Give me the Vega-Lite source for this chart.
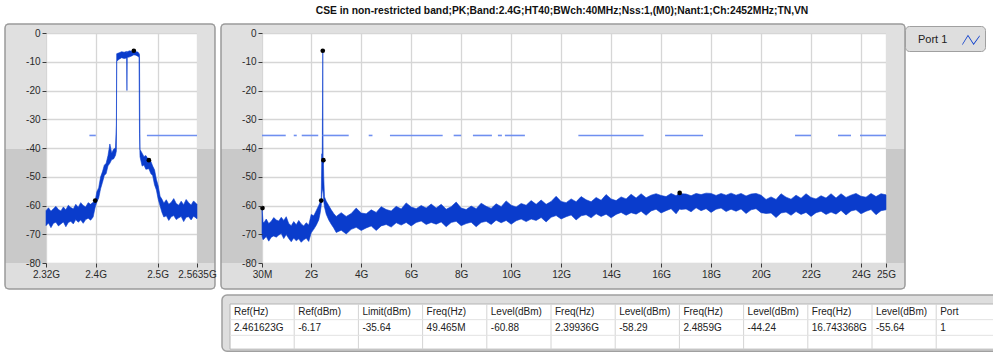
{
  "$schema": "https://vega.github.io/schema/vega-lite/v6.json",
  "background": "white",
  "padding": {"left": 3, "top": 5, "right": 0, "bottom": 0},
  "config": {
    "font": "Liberation Sans",
    "view": {"stroke": "#8e8e8e", "fill": "white"},
    "axis": {"grid": false, "gridColor": "#d6d6d6", "gridWidth": 1.3, "domain": false, "tickColor": "#3a3a3a", "tickSize": 4, "labelColor": "#2a2a2a", "labelFont": "Liberation Sans", "labelFontSize": 10, "labelPadding": 2, "labelFlush": false, "labelOverlap": false},
    "axisY": {"tickCount": 9}
  },
  "datasets": {
    "spectrumLeft": [
      {"f": 2.320, "lo": -67.0, "hi": -61.8}, {"f": 2.324, "lo": -66.1, "hi": -60.8}, {"f": 2.328, "lo": -67.7, "hi": -62.0},
      {"f": 2.332, "lo": -66.2, "hi": -61.1}, {"f": 2.336, "lo": -65.8, "hi": -60.3}, {"f": 2.340, "lo": -67.1, "hi": -61.4},
      {"f": 2.344, "lo": -66.4, "hi": -61.9}, {"f": 2.348, "lo": -65.7, "hi": -60.5}, {"f": 2.352, "lo": -67.4, "hi": -61.5},
      {"f": 2.356, "lo": -65.9, "hi": -59.9}, {"f": 2.360, "lo": -65.5, "hi": -60.7}, {"f": 2.364, "lo": -66.4, "hi": -61.2},
      {"f": 2.368, "lo": -64.9, "hi": -59.6}, {"f": 2.372, "lo": -65.8, "hi": -60.6}, {"f": 2.376, "lo": -65.0, "hi": -59.0},
      {"f": 2.380, "lo": -66.2, "hi": -60.0}, {"f": 2.384, "lo": -64.9, "hi": -60.5}, {"f": 2.388, "lo": -64.4, "hi": -59.0},
      {"f": 2.392, "lo": -65.1, "hi": -59.6}, {"f": 2.396, "lo": -64.0, "hi": -58.9}, {"f": 2.3994, "lo": -60.5, "hi": -58.29},
      {"f": 2.402, "lo": -58.8, "hi": -55.2}, {"f": 2.405, "lo": -57.4, "hi": -53.8}, {"f": 2.408, "lo": -54.2, "hi": -50.1},
      {"f": 2.411, "lo": -52.0, "hi": -48.3}, {"f": 2.414, "lo": -49.6, "hi": -46.0}, {"f": 2.417, "lo": -48.9, "hi": -45.3},
      {"f": 2.420, "lo": -46.2, "hi": -42.6}, {"f": 2.423, "lo": -45.3, "hi": -38.6}, {"f": 2.426, "lo": -44.0, "hi": -41.8},
      {"f": 2.429, "lo": -43.8, "hi": -40.4}, {"f": 2.432, "lo": -42.6, "hi": -40.0}, {"f": 2.4335, "lo": -41.0, "hi": -32.0},
      {"f": 2.434, "lo": -9.8, "hi": -7.2}, {"f": 2.438, "lo": -9.1, "hi": -6.9}, {"f": 2.442, "lo": -8.6, "hi": -6.5},
      {"f": 2.446, "lo": -8.9, "hi": -6.7}, {"f": 2.450, "lo": -8.7, "hi": -6.4}, {"f": 2.4505, "lo": -20.0, "hi": -7.0},
      {"f": 2.451, "lo": -8.5, "hi": -6.5}, {"f": 2.455, "lo": -8.3, "hi": -6.2}, {"f": 2.459, "lo": -7.9, "hi": -6.4},
      {"f": 2.4616, "lo": -7.6, "hi": -6.17}, {"f": 2.465, "lo": -7.7, "hi": -6.5}, {"f": 2.468, "lo": -8.1, "hi": -6.6},
      {"f": 2.470, "lo": -8.4, "hi": -7.1}, {"f": 2.4708, "lo": -35.0, "hi": -7.5}, {"f": 2.4716, "lo": -43.0, "hi": -40.5},
      {"f": 2.475, "lo": -46.3, "hi": -41.8}, {"f": 2.478, "lo": -45.9, "hi": -43.0}, {"f": 2.481, "lo": -47.4, "hi": -42.6},
      {"f": 2.4859, "lo": -47.2, "hi": -44.24}, {"f": 2.489, "lo": -48.9, "hi": -44.6}, {"f": 2.492, "lo": -49.6, "hi": -46.3},
      {"f": 2.495, "lo": -52.8, "hi": -47.6}, {"f": 2.498, "lo": -54.6, "hi": -50.9}, {"f": 2.501, "lo": -57.9, "hi": -53.2},
      {"f": 2.504, "lo": -60.2, "hi": -56.8}, {"f": 2.507, "lo": -62.4, "hi": -57.8}, {"f": 2.510, "lo": -64.0, "hi": -59.2},
      {"f": 2.514, "lo": -63.6, "hi": -58.0}, {"f": 2.518, "lo": -65.2, "hi": -59.6}, {"f": 2.522, "lo": -63.9, "hi": -58.9},
      {"f": 2.526, "lo": -63.5, "hi": -57.6}, {"f": 2.530, "lo": -64.9, "hi": -59.3}, {"f": 2.534, "lo": -64.3, "hi": -59.9},
      {"f": 2.538, "lo": -63.8, "hi": -58.5}, {"f": 2.542, "lo": -65.6, "hi": -59.7}, {"f": 2.546, "lo": -64.1, "hi": -57.9},
      {"f": 2.550, "lo": -63.9, "hi": -59.0}, {"f": 2.554, "lo": -65.0, "hi": -59.8}, {"f": 2.558, "lo": -63.7, "hi": -58.4},
      {"f": 2.5635, "lo": -64.6, "hi": -59.6}
    ],
    "spectrumRight": [
      {"f": 0.03, "lo": -70.5, "hi": -60.88}, {"f": 0.07, "lo": -71.9, "hi": -65.6}, {"f": 0.10, "lo": -71.7, "hi": -66.1},
      {"f": 0.20, "lo": -70.8, "hi": -64.7}, {"f": 0.30, "lo": -72.4, "hi": -66.3}, {"f": 0.40, "lo": -71.0, "hi": -65.5},
      {"f": 0.50, "lo": -70.6, "hi": -64.2}, {"f": 0.60, "lo": -71.0, "hi": -65.0}, {"f": 0.70, "lo": -70.3, "hi": -65.4},
      {"f": 0.80, "lo": -69.7, "hi": -64.1}, {"f": 0.90, "lo": -71.5, "hi": -65.2}, {"f": 1.00, "lo": -70.1, "hi": -63.9},
      {"f": 1.10, "lo": -71.5, "hi": -66.3}, {"f": 1.20, "lo": -72.6, "hi": -67.0}, {"f": 1.30, "lo": -71.3, "hi": -65.6},
      {"f": 1.40, "lo": -72.3, "hi": -66.7}, {"f": 1.50, "lo": -71.6, "hi": -65.2}, {"f": 1.60, "lo": -72.8, "hi": -66.4},
      {"f": 1.70, "lo": -71.9, "hi": -67.1}, {"f": 1.80, "lo": -71.4, "hi": -66.0}, {"f": 1.90, "lo": -72.5, "hi": -66.8},
      {"f": 2.00, "lo": -69.5, "hi": -63.1}, {"f": 2.10, "lo": -68.3, "hi": -63.6}, {"f": 2.20, "lo": -66.9, "hi": -61.8},
      {"f": 2.30, "lo": -65.0, "hi": -60.0}, {"f": 2.36, "lo": -62.5, "hi": -58.8}, {"f": 2.3994, "lo": -60.0, "hi": -58.29},
      {"f": 2.415, "lo": -58.0, "hi": -48.0}, {"f": 2.425, "lo": -56.0, "hi": -42.0}, {"f": 2.44, "lo": -55.0, "hi": -45.0},
      {"f": 2.4616, "lo": -54.0, "hi": -6.17}, {"f": 2.475, "lo": -55.0, "hi": -45.5}, {"f": 2.4859, "lo": -56.0, "hi": -44.24},
      {"f": 2.50, "lo": -58.5, "hi": -50.0}, {"f": 2.53, "lo": -60.5, "hi": -57.0}, {"f": 2.60, "lo": -63.0, "hi": -58.5},
      {"f": 2.70, "lo": -65.0, "hi": -60.0}, {"f": 2.80, "lo": -66.5, "hi": -61.5}, {"f": 2.90, "lo": -67.8, "hi": -62.8},
      {"f": 3.0, "lo": -69.4, "hi": -63.8}, {"f": 3.2, "lo": -68.6, "hi": -62.5}, {"f": 3.4, "lo": -69.9, "hi": -63.8},
      {"f": 3.6, "lo": -68.3, "hi": -62.8}, {"f": 3.8, "lo": -67.6, "hi": -60.9}, {"f": 4.0, "lo": -68.7, "hi": -62.6},
      {"f": 4.2, "lo": -67.8, "hi": -62.9}, {"f": 4.4, "lo": -67.1, "hi": -61.5}, {"f": 4.6, "lo": -68.7, "hi": -62.4},
      {"f": 4.8, "lo": -67.1, "hi": -60.4}, {"f": 5.0, "lo": -66.6, "hi": -61.4}, {"f": 5.2, "lo": -67.5, "hi": -61.9},
      {"f": 5.4, "lo": -66.0, "hi": -60.3}, {"f": 5.6, "lo": -66.8, "hi": -61.2}, {"f": 5.8, "lo": -65.9, "hi": -59.1},
      {"f": 6.0, "lo": -67.1, "hi": -60.5}, {"f": 6.2, "lo": -65.9, "hi": -61.1}, {"f": 6.4, "lo": -65.4, "hi": -60.0},
      {"f": 6.6, "lo": -66.6, "hi": -60.9}, {"f": 6.8, "lo": -65.9, "hi": -59.5}, {"f": 7.0, "lo": -66.5, "hi": -60.9},
      {"f": 7.2, "lo": -65.7, "hi": -59.6}, {"f": 7.4, "lo": -67.4, "hi": -61.3}, {"f": 7.6, "lo": -65.9, "hi": -60.4},
      {"f": 7.8, "lo": -65.5, "hi": -58.8}, {"f": 8.0, "lo": -67.0, "hi": -60.9}, {"f": 8.2, "lo": -66.3, "hi": -61.4},
      {"f": 8.4, "lo": -65.8, "hi": -60.2}, {"f": 8.6, "lo": -67.4, "hi": -61.1}, {"f": 8.8, "lo": -65.9, "hi": -59.2},
      {"f": 9.0, "lo": -65.5, "hi": -60.3}, {"f": 9.2, "lo": -66.6, "hi": -61.0}, {"f": 9.4, "lo": -65.1, "hi": -59.4},
      {"f": 9.6, "lo": -66.0, "hi": -60.4}, {"f": 9.8, "lo": -65.2, "hi": -58.4}, {"f": 10.0, "lo": -66.5, "hi": -59.9},
      {"f": 10.2, "lo": -65.3, "hi": -60.5}, {"f": 10.4, "lo": -64.7, "hi": -59.3}, {"f": 10.6, "lo": -65.6, "hi": -59.9},
      {"f": 10.8, "lo": -64.7, "hi": -58.3}, {"f": 11.0, "lo": -65.2, "hi": -59.6}, {"f": 11.2, "lo": -64.2, "hi": -58.1},
      {"f": 11.4, "lo": -65.7, "hi": -59.6}, {"f": 11.6, "lo": -64.1, "hi": -58.6}, {"f": 11.8, "lo": -63.5, "hi": -56.8},
      {"f": 12.0, "lo": -64.7, "hi": -58.6}, {"f": 12.2, "lo": -63.9, "hi": -59.0}, {"f": 12.4, "lo": -63.3, "hi": -57.7},
      {"f": 12.6, "lo": -65.0, "hi": -58.7}, {"f": 12.8, "lo": -63.6, "hi": -56.9}, {"f": 13.0, "lo": -63.2, "hi": -58.0},
      {"f": 13.2, "lo": -64.3, "hi": -58.7}, {"f": 13.4, "lo": -62.9, "hi": -57.2}, {"f": 13.6, "lo": -63.8, "hi": -58.2},
      {"f": 13.8, "lo": -63.0, "hi": -56.2}, {"f": 14.0, "lo": -64.3, "hi": -57.7}, {"f": 14.2, "lo": -63.1, "hi": -58.3},
      {"f": 14.4, "lo": -62.4, "hi": -57.0}, {"f": 14.6, "lo": -63.4, "hi": -57.7}, {"f": 14.8, "lo": -62.5, "hi": -56.1},
      {"f": 15.0, "lo": -63.0, "hi": -57.4}, {"f": 15.2, "lo": -62.0, "hi": -55.9}, {"f": 15.4, "lo": -63.4, "hi": -57.3},
      {"f": 15.6, "lo": -61.9, "hi": -56.4}, {"f": 15.8, "lo": -61.3, "hi": -55.9}, {"f": 16.0, "lo": -62.6, "hi": -56.5},
      {"f": 16.2, "lo": -61.8, "hi": -56.9}, {"f": 16.4, "lo": -61.1, "hi": -55.8}, {"f": 16.6, "lo": -62.9, "hi": -56.6},
      {"f": 16.74, "lo": -61.2, "hi": -55.64}, {"f": 16.8, "lo": -61.4, "hi": -55.9}, {"f": 17.0, "lo": -61.2, "hi": -56.0},
      {"f": 17.2, "lo": -62.2, "hi": -56.6}, {"f": 17.4, "lo": -60.8, "hi": -55.8}, {"f": 17.6, "lo": -61.8, "hi": -56.2},
      {"f": 17.8, "lo": -61.1, "hi": -55.7}, {"f": 18.0, "lo": -62.4, "hi": -55.8}, {"f": 18.2, "lo": -61.3, "hi": -56.5},
      {"f": 18.4, "lo": -60.9, "hi": -55.8}, {"f": 18.6, "lo": -62.1, "hi": -56.4}, {"f": 18.8, "lo": -61.3, "hi": -55.7},
      {"f": 19.0, "lo": -62.0, "hi": -56.4}, {"f": 19.2, "lo": -61.2, "hi": -55.8}, {"f": 19.4, "lo": -62.8, "hi": -56.7},
      {"f": 19.6, "lo": -61.5, "hi": -56.0}, {"f": 19.8, "lo": -61.1, "hi": -55.8}, {"f": 20.0, "lo": -62.5, "hi": -56.4},
      {"f": 20.2, "lo": -62.8, "hi": -57.9}, {"f": 20.4, "lo": -62.6, "hi": -57.0}, {"f": 20.6, "lo": -64.2, "hi": -57.9},
      {"f": 20.8, "lo": -62.6, "hi": -55.9}, {"f": 21.0, "lo": -62.3, "hi": -57.1}, {"f": 21.2, "lo": -63.4, "hi": -57.8},
      {"f": 21.4, "lo": -62.1, "hi": -56.4}, {"f": 21.6, "lo": -63.1, "hi": -57.5}, {"f": 21.8, "lo": -62.4, "hi": -55.9},
      {"f": 22.0, "lo": -63.8, "hi": -57.2}, {"f": 22.2, "lo": -62.5, "hi": -57.7}, {"f": 22.4, "lo": -62.0, "hi": -56.6},
      {"f": 22.6, "lo": -63.1, "hi": -57.4}, {"f": 22.8, "lo": -62.3, "hi": -55.9}, {"f": 23.0, "lo": -63.0, "hi": -57.4},
      {"f": 23.2, "lo": -61.7, "hi": -55.9}, {"f": 23.4, "lo": -63.3, "hi": -57.2}, {"f": 23.6, "lo": -61.9, "hi": -56.4},
      {"f": 23.8, "lo": -61.5, "hi": -55.8}, {"f": 24.0, "lo": -62.9, "hi": -56.8}, {"f": 24.2, "lo": -62.0, "hi": -57.1},
      {"f": 24.4, "lo": -61.4, "hi": -55.8}, {"f": 24.6, "lo": -63.2, "hi": -56.9}, {"f": 24.8, "lo": -61.8, "hi": -55.9},
      {"f": 25.0, "lo": -61.5, "hi": -56.3}
    ],
    "peaks": [
      {"f": 2.461623, "lvl": -6.17},
      {"f": 0.049465, "lvl": -60.88},
      {"f": 2.39936, "lvl": -58.29},
      {"f": 2.4859, "lvl": -44.24},
      {"f": 16.743368, "lvl": -55.64}
    ],
    "limitLeft": [{"f0": 2.390, "f1": 2.4003}, {"f0": 2.4827, "f1": 2.5635}],
    "limitRight": [
      {"f0": 0.03, "f1": 0.98}, {"f0": 1.30, "f1": 1.42}, {"f0": 1.62, "f1": 2.28}, {"f0": 2.45, "f1": 3.50},
      {"f0": 4.30, "f1": 4.45}, {"f0": 5.15, "f1": 7.26}, {"f0": 7.70, "f1": 8.00}, {"f0": 8.47, "f1": 9.23},
      {"f0": 9.47, "f1": 9.63}, {"f0": 9.75, "f1": 10.55}, {"f0": 12.69, "f1": 15.30}, {"f0": 16.16, "f1": 17.68},
      {"f0": 21.36, "f1": 22.00}, {"f0": 23.08, "f1": 23.60}, {"f0": 23.96, "f1": 25.0}
    ],
    "table": [
      {"col": "c01", "head": "Ref(Hz)", "val": "2.461623G"},
      {"col": "c02", "head": "Ref(dBm)", "val": "-6.17"},
      {"col": "c03", "head": "Limit(dBm)", "val": "-35.64"},
      {"col": "c04", "head": "Freq(Hz)", "val": "49.465M"},
      {"col": "c05", "head": "Level(dBm)", "val": "-60.88"},
      {"col": "c06", "head": "Freq(Hz)", "val": "2.39936G"},
      {"col": "c07", "head": "Level(dBm)", "val": "-58.29"},
      {"col": "c08", "head": "Freq(Hz)", "val": "2.4859G"},
      {"col": "c09", "head": "Level(dBm)", "val": "-44.24"},
      {"col": "c10", "head": "Freq(Hz)", "val": "16.743368G"},
      {"col": "c11", "head": "Level(dBm)", "val": "-55.64"},
      {"col": "c12", "head": "Port", "val": "1"}
    ]
  },
  "spacing": 65,
  "bounds": "flush",
  "resolve": {"scale": {"x": "independent", "y": "independent", "color": "independent"}, "legend": {"color": "independent"}},
  "hconcat": [
    {
      "width": 151,
      "height": 230,
      "resolve": {"axis": {"x": "independent", "y": "independent"}},
      "layer": [
        {
          "data": {"values": [{}]},
          "mark": {"type": "rect", "fill": "#e0e0e0"},
          "encoding": {
            "x": {"datum": 2.2539, "type": "quantitative", "scale": {"domain": [2.32, 2.5635], "nice": false, "zero": false},
              "axis": {"title": null, "orient": "bottom", "zindex": 1, "grid": false, "values": [2.32, 2.4, 2.5, 2.5635], "labelExpr": "datum.value + 'G'"}},
            "x2": {"datum": 2.5925},
            "y": {"datum": 3.13, "type": "quantitative", "scale": {"domain": [-80, 0], "nice": false, "zero": false},
              "axis": {"title": null, "orient": "left", "zindex": 1, "grid": false, "values": [-80, -70, -60, -50, -40, -30, -20, -10, 0], "labelExpr": "'' + datum.value"}},
            "y2": {"datum": 0}
          }
        },
        {
          "data": {"values": [{}]},
          "mark": {"type": "rect", "fill": "#dedede"},
          "encoding": {"x": {"datum": 2.2539, "type": "quantitative", "axis": null}, "x2": {"datum": 2.5925}, "y": {"datum": -80, "type": "quantitative", "axis": null}, "y2": {"datum": -89.04}}
        },
        {
          "data": {"values": [{}]},
          "mark": {"type": "rect", "fill": "#e0e0e0"},
          "encoding": {"x": {"datum": 2.2539, "type": "quantitative", "axis": null}, "x2": {"datum": 2.32}, "y": {"datum": 0, "type": "quantitative", "axis": null}, "y2": {"datum": -40.35}}
        },
        {
          "data": {"values": [{}]},
          "mark": {"type": "rect", "fill": "#c9c9c9"},
          "encoding": {"x": {"datum": 2.2539, "type": "quantitative", "axis": null}, "x2": {"datum": 2.32}, "y": {"datum": -40.35, "type": "quantitative", "axis": null}, "y2": {"datum": -80}}
        },
        {
          "data": {"values": [{}]},
          "mark": {"type": "rect", "fill": "#e0e0e0"},
          "encoding": {"x": {"datum": 2.5635, "type": "quantitative", "axis": null}, "x2": {"datum": 2.5925}, "y": {"datum": 0, "type": "quantitative", "axis": null}, "y2": {"datum": -40.35}}
        },
        {
          "data": {"values": [{}]},
          "mark": {"type": "rect", "fill": "#c9c9c9"},
          "encoding": {"x": {"datum": 2.5635, "type": "quantitative", "axis": null}, "x2": {"datum": 2.5925}, "y": {"datum": -40.35, "type": "quantitative", "axis": null}, "y2": {"datum": -80}}
        },
        {
          "data": {"values": [{}]},
          "mark": {"type": "rect", "fill": null, "stroke": "#9a9a9a", "strokeWidth": 1.5, "cornerRadius": 4},
          "encoding": {"x": {"datum": 2.2539, "type": "quantitative", "axis": null}, "x2": {"datum": 2.5925}, "y": {"datum": 3.13, "type": "quantitative", "axis": null}, "y2": {"datum": -89.04}}
        },
        {
          "data": {"name": "spectrumLeft"},
          "mark": {"type": "area", "color": "#0a3ccc", "stroke": "#0a3ccc", "strokeWidth": 0.6, "opacity": 1},
          "encoding": {
            "x": {"field": "f", "type": "quantitative",
              "axis": {"title": null, "orient": "top", "grid": true, "labels": false, "ticks": false, "domain": false, "values": [2.32, 2.4, 2.5, 2.5635]}},
            "y": {"field": "hi", "type": "quantitative",
              "axis": {"title": null, "orient": "right", "grid": true, "labels": false, "ticks": false, "domain": false, "values": [-80, -70, -60, -50, -40, -30, -20, -10, 0]}},
            "y2": {"field": "lo"}
          }
        },
        {
          "data": {"name": "limitLeft"},
          "mark": {"type": "rule", "color": "#6f8ff0", "strokeWidth": 1.6},
          "encoding": {
            "x": {"field": "f0", "type": "quantitative", "axis": null},
            "x2": {"field": "f1"},
            "y": {"datum": -35.64, "type": "quantitative", "axis": null}
          }
        },
        {
          "data": {"name": "peaks"},
          "transform": [{"filter": "datum.f >= 2.32 && datum.f <= 2.5635"}],
          "mark": {"type": "point", "filled": true, "color": "black", "size": 22, "opacity": 1},
          "encoding": {
            "x": {"field": "f", "type": "quantitative", "axis": null},
            "y": {"field": "lvl", "type": "quantitative", "axis": null}
          }
        }
      ]
    },
    {
      "spacing": 41,
      "bounds": "flush",
      "resolve": {"scale": {"x": "independent", "y": "independent", "color": "independent"}, "legend": {"color": "independent"}},
      "vconcat": [
        {
          "width": 624,
          "height": 230,
          "resolve": {"axis": {"x": "independent", "y": "independent"}},
          "title": {"text": "CSE in non-restricted band;PK;Band:2.4G;HT40;BWch:40MHz;Nss:1,(M0);Nant:1;Ch:2452MHz;TN,VN", "font": "Liberation Sans", "fontSize": 10.3, "fontWeight": "bold", "color": "#111111", "anchor": "middle", "frame": "group", "dx": -12, "offset": 7},
          "layer": [
            {
              "data": {"values": [{}]},
              "mark": {"type": "rect", "fill": "#e0e0e0"},
              "encoding": {
                "x": {"datum": -1.6107, "type": "quantitative", "scale": {"domain": [0.03, 25], "nice": false, "zero": false},
                  "axis": {"title": null, "orient": "bottom", "zindex": 1, "grid": false, "values": [0.03, 2, 4, 6, 8, 10, 12, 14, 16, 18, 20, 22, 24, 25], "labelExpr": "datum.value < 1 ? '30M' : datum.value + 'G'"}},
                "x2": {"datum": 25.76},
                "y": {"datum": 3.13, "type": "quantitative", "scale": {"domain": [-80, 0], "nice": false, "zero": false},
                  "axis": {"title": null, "orient": "left", "zindex": 1, "grid": false, "values": [-80, -70, -60, -50, -40, -30, -20, -10, 0], "labelExpr": "'' + datum.value"}},
                "y2": {"datum": 0}
              }
            },
            {
              "data": {"values": [{}]},
              "mark": {"type": "rect", "fill": "#dedede"},
              "encoding": {"x": {"datum": -1.6107, "type": "quantitative", "axis": null}, "x2": {"datum": 25.76}, "y": {"datum": -80, "type": "quantitative", "axis": null}, "y2": {"datum": -89.04}}
            },
            {
              "data": {"values": [{}]},
              "mark": {"type": "rect", "fill": "#e0e0e0"},
              "encoding": {"x": {"datum": -1.6107, "type": "quantitative", "axis": null}, "x2": {"datum": 0.03}, "y": {"datum": 0, "type": "quantitative", "axis": null}, "y2": {"datum": -40.35}}
            },
            {
              "data": {"values": [{}]},
              "mark": {"type": "rect", "fill": "#c9c9c9"},
              "encoding": {"x": {"datum": -1.6107, "type": "quantitative", "axis": null}, "x2": {"datum": 0.03}, "y": {"datum": -40.35, "type": "quantitative", "axis": null}, "y2": {"datum": -80}}
            },
            {
              "data": {"values": [{}]},
              "mark": {"type": "rect", "fill": "#e0e0e0"},
              "encoding": {"x": {"datum": 25, "type": "quantitative", "axis": null}, "x2": {"datum": 25.76}, "y": {"datum": 0, "type": "quantitative", "axis": null}, "y2": {"datum": -40.35}}
            },
            {
              "data": {"values": [{}]},
              "mark": {"type": "rect", "fill": "#c9c9c9"},
              "encoding": {"x": {"datum": 25, "type": "quantitative", "axis": null}, "x2": {"datum": 25.76}, "y": {"datum": -40.35, "type": "quantitative", "axis": null}, "y2": {"datum": -80}}
            },
            {
              "data": {"values": [{}]},
              "mark": {"type": "rect", "fill": null, "stroke": "#9a9a9a", "strokeWidth": 1.5, "cornerRadius": 4},
              "encoding": {"x": {"datum": -1.6107, "type": "quantitative", "axis": null}, "x2": {"datum": 25.76}, "y": {"datum": 3.13, "type": "quantitative", "axis": null}, "y2": {"datum": -89.04}}
            },
            {
              "data": {"name": "spectrumRight"},
              "mark": {"type": "area", "stroke": "#0a3ccc", "strokeWidth": 0.6, "opacity": 1},
              "encoding": {
                "x": {"field": "f", "type": "quantitative",
                  "axis": {"title": null, "orient": "top", "grid": true, "labels": false, "ticks": false, "domain": false, "values": [0.03, 2, 4, 6, 8, 10, 12, 14, 16, 18, 20, 22, 24, 25]}},
                "y": {"field": "hi", "type": "quantitative",
                  "axis": {"title": null, "orient": "right", "grid": true, "labels": false, "ticks": false, "domain": false, "values": [-80, -70, -60, -50, -40, -30, -20, -10, 0]}},
                "y2": {"field": "lo"},
                "color": {"datum": "Port 1", "type": "nominal", "scale": {"range": ["#0a3ccc"]},
                  "legend": {"orient": "none", "legendX": 643, "legendY": -7, "title": null, "fillColor": "#dedede", "strokeColor": "#a0a0a0", "cornerRadius": 4, "padding": 5,
                    "labelFont": "Liberation Sans", "labelFontSize": 11, "labelColor": "#222222",
                    "symbolType": "M-1,0.45L-0.35,-0.6L0.3,0.4L1,-0.55L1,-0.4L0.3,0.58L-0.35,-0.42L-1,0.62Z", "symbolFillColor": "#4a6de0", "symbolStrokeWidth": 0, "symbolSize": 300, "symbolOffset": 52, "labelOffset": -62}}
              }
            },
            {
              "data": {"name": "limitRight"},
              "mark": {"type": "rule", "color": "#6f8ff0", "strokeWidth": 1.6},
              "encoding": {
                "x": {"field": "f0", "type": "quantitative", "axis": null},
                "x2": {"field": "f1"},
                "y": {"datum": -35.64, "type": "quantitative", "axis": null}
              }
            },
            {
              "data": {"name": "peaks"},
              "mark": {"type": "point", "filled": true, "color": "black", "size": 22, "opacity": 1},
              "encoding": {
                "x": {"field": "f", "type": "quantitative", "axis": null},
                "y": {"field": "lvl", "type": "quantitative", "axis": null}
              }
            }
          ]
        },
        {
          "width": 718,
          "height": 47,
          "view": {"stroke": null, "fill": null},
          "data": {"name": "table"},
          "layer": [
            {
              "data": {"values": [{}]},
              "mark": {"type": "rect", "fill": "#dedede", "stroke": "#a0a0a0", "strokeWidth": 1.5, "cornerRadius": 5, "xOffset": -8, "x2Offset": 52, "yOffset": -9, "y2Offset": 8},
              "encoding": {
                "x": {"datum": "c01", "type": "nominal", "bandPosition": 0,
                  "scale": {"domain": ["c01", "c02", "c03", "c04", "c05", "c06", "c07", "c08", "c09", "c10", "c11", "c12"], "range": [-32, 738.4], "paddingInner": 0, "paddingOuter": 0},
                  "axis": null},
                "x2": {"datum": "c12"},
                "y": {"datum": "header", "type": "nominal", "bandPosition": 0,
                  "scale": {"domain": ["header", "value", "blank"], "range": [0, 47], "paddingInner": 0, "paddingOuter": 0},
                  "axis": null},
                "y2": {"datum": "blank"}
              }
            },
            {
              "data": {"values": [{}]},
              "mark": {"type": "rect", "fill": "white", "stroke": "#b4b4b4", "strokeWidth": 1, "x2Offset": 44, "y2Offset": 6},
              "encoding": {
                "x": {"datum": "c01", "type": "nominal", "bandPosition": 0},
                "x2": {"datum": "c12"},
                "y": {"datum": "header", "type": "nominal", "bandPosition": 0},
                "y2": {"datum": "blank"}
              }
            },
            {
              "transform": [{"filter": "datum.col != 'c01'"}],
              "mark": {"type": "rule", "color": "#d4d4d4", "strokeWidth": 1, "y2Offset": 6},
              "encoding": {
                "x": {"field": "col", "type": "nominal", "bandPosition": 0},
                "y": {"datum": "header", "type": "nominal", "bandPosition": 0},
                "y2": {"datum": "blank"}
              }
            },
            {
              "data": {"values": [{}]},
              "mark": {"type": "rule", "color": "#e2e2e2", "strokeWidth": 1, "x2Offset": 44},
              "encoding": {
                "x": {"datum": "c01", "type": "nominal", "bandPosition": 0},
                "x2": {"datum": "c12"},
                "y": {"datum": "value", "type": "nominal", "bandPosition": 0}
              }
            },
            {
              "data": {"values": [{}]},
              "mark": {"type": "rule", "color": "#e2e2e2", "strokeWidth": 1, "x2Offset": 44},
              "encoding": {
                "x": {"datum": "c01", "type": "nominal", "bandPosition": 0},
                "x2": {"datum": "c12"},
                "y": {"datum": "blank", "type": "nominal", "bandPosition": 0}
              }
            },
            {
              "mark": {"type": "text", "align": "left", "dx": 4, "font": "Liberation Sans", "fontSize": 10, "color": "#222222"},
              "encoding": {
                "x": {"field": "col", "type": "nominal", "bandPosition": 0},
                "y": {"datum": "header", "type": "nominal"},
                "text": {"field": "head"}
              }
            },
            {
              "mark": {"type": "text", "align": "left", "dx": 4, "font": "Liberation Sans", "fontSize": 10, "color": "#222222"},
              "encoding": {
                "x": {"field": "col", "type": "nominal", "bandPosition": 0},
                "y": {"datum": "value", "type": "nominal"},
                "text": {"field": "val"}
              }
            }
          ]
        }
      ]
    }
  ]
}
